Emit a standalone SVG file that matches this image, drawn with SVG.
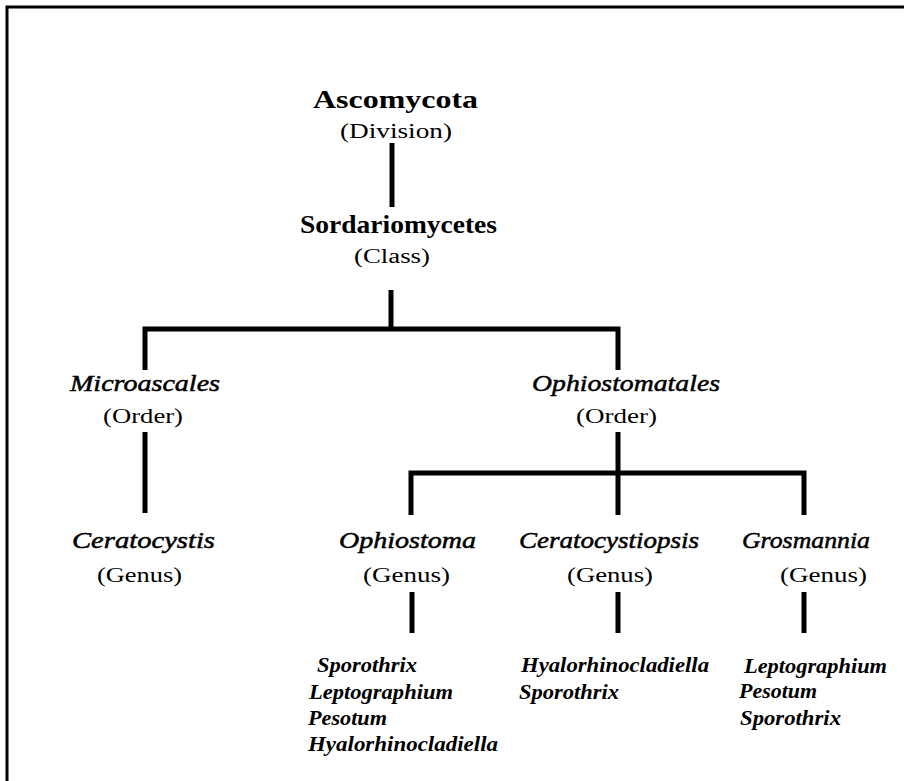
<svg xmlns="http://www.w3.org/2000/svg" width="904" height="781" viewBox="0 0 904 781">
<style>
text { font-family: "Liberation Serif", "Times New Roman", serif; fill: #000; }
.title { font-size: 26px; font-weight: bold; }
.taxon { font-size: 24px; font-style: italic; stroke: #000; stroke-width: 0.5; }
.rank { font-size: 20px; }
.sub { font-size: 22px; font-weight: bold; font-style: italic; }
.line { stroke: #000; stroke-width: 5; fill: none; stroke-linecap: butt; }
.frame { stroke: #000; stroke-width: 3; fill: none; }
</style>
<rect x="0" y="0" width="904" height="781" fill="#fff"/>
<path class="frame" d="M7,781 V7 H904"/>
<g id="connectors">
  <line class="line" x1="392" y1="143" x2="392" y2="207"/>
  <line class="line" x1="391" y1="290" x2="391" y2="329"/>
  <path class="line" d="M145,370 V329 H618 V370"/>
  <line class="line" x1="145" y1="432" x2="145" y2="513"/>
  <line class="line" x1="618" y1="432" x2="618" y2="515"/>
  <path class="line" d="M411,515 V473 H804 V515"/>
  <line class="line" x1="412" y1="592" x2="412" y2="633"/>
  <line class="line" x1="618" y1="592" x2="618" y2="633"/>
  <line class="line" x1="804" y1="592" x2="804" y2="633"/>
</g>
<g id="ascomycota">
  <text class="title" x="313" y="108" textLength="165" lengthAdjust="spacingAndGlyphs">Ascomycota</text>
  <text class="rank" x="340" y="138" textLength="112" lengthAdjust="spacingAndGlyphs">(Division)</text>
</g>
<g id="sordariomycetes">
  <text class="title" x="300" y="233" textLength="197" lengthAdjust="spacingAndGlyphs">Sordariomycetes</text>
  <text class="rank" x="354" y="263" textLength="76" lengthAdjust="spacingAndGlyphs">(Class)</text>
</g>
<g id="microascales">
  <text class="taxon" x="70" y="391" textLength="150" lengthAdjust="spacingAndGlyphs">Microascales</text>
  <text class="rank" x="103" y="423" textLength="80" lengthAdjust="spacingAndGlyphs">(Order)</text>
</g>
<g id="ophiostomatales">
  <text class="taxon" x="532" y="391" textLength="188" lengthAdjust="spacingAndGlyphs">Ophiostomatales</text>
  <text class="rank" x="576" y="423" textLength="81" lengthAdjust="spacingAndGlyphs">(Order)</text>
</g>
<g id="ceratocystis">
  <text class="taxon" x="72" y="548" textLength="143" lengthAdjust="spacingAndGlyphs">Ceratocystis</text>
  <text class="rank" x="97" y="582" textLength="85" lengthAdjust="spacingAndGlyphs">(Genus)</text>
</g>
<g id="ophiostoma">
  <text class="taxon" x="339" y="548" textLength="137" lengthAdjust="spacingAndGlyphs">Ophiostoma</text>
  <text class="rank" x="363" y="582" textLength="87" lengthAdjust="spacingAndGlyphs">(Genus)</text>
</g>
<g id="ceratocystiopsis">
  <text class="taxon" x="519" y="548" textLength="180" lengthAdjust="spacingAndGlyphs">Ceratocystiopsis</text>
  <text class="rank" x="567" y="582" textLength="86" lengthAdjust="spacingAndGlyphs">(Genus)</text>
</g>
<g id="grosmannia">
  <text class="taxon" x="742" y="548" textLength="128" lengthAdjust="spacingAndGlyphs">Grosmannia</text>
  <text class="rank" x="780" y="582" textLength="87" lengthAdjust="spacingAndGlyphs">(Genus)</text>
</g>
<g id="ophiostoma-anamorphs">
  <text class="sub" x="317" y="672" textLength="100" lengthAdjust="spacingAndGlyphs">Sporothrix</text>
  <text class="sub" x="309" y="699" textLength="144" lengthAdjust="spacingAndGlyphs">Leptographium</text>
  <text class="sub" x="308" y="725" textLength="79" lengthAdjust="spacingAndGlyphs">Pesotum</text>
  <text class="sub" x="308" y="751" textLength="190" lengthAdjust="spacingAndGlyphs">Hyalorhinocladiella</text>
</g>
<g id="ceratocystiopsis-anamorphs">
  <text class="sub" x="521" y="672" textLength="188" lengthAdjust="spacingAndGlyphs">Hyalorhinocladiella</text>
  <text class="sub" x="519" y="699" textLength="100" lengthAdjust="spacingAndGlyphs">Sporothrix</text>
</g>
<g id="grosmannia-anamorphs">
  <text class="sub" x="744" y="673" textLength="143" lengthAdjust="spacingAndGlyphs">Leptographium</text>
  <text class="sub" x="739" y="698" textLength="78" lengthAdjust="spacingAndGlyphs">Pesotum</text>
  <text class="sub" x="740" y="725" textLength="101" lengthAdjust="spacingAndGlyphs">Sporothrix</text>
</g>
</svg>
